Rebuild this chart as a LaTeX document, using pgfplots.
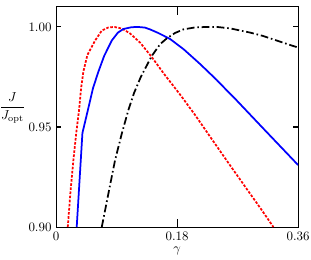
\documentclass[border=0pt]{standalone}
\usepackage{pgfplots}
\pgfplotsset{compat=1.18}
\begin{document}
\begin{tikzpicture}
\begin{axis}[
  scale only axis,
  width=187.3pt, height=170.3pt,
  xmin=0, xmax=0.36, ymin=0.90, ymax=1.01,
  xtick={0,0.18,0.36}, xticklabels={0,0.18,0.36},
  ytick={0.90,0.95,1.00}, yticklabels={0.90,0.95,1.00},
  tick align=inside,
  xtick style={/pgfplots/major tick length=6.5pt, line width=0.8pt, black},
  ytick style={/pgfplots/major tick length=3.8pt, line width=0.8pt, black},
  axis line style={line width=0.8pt},
  xlabel={$\gamma$},
  every axis x label/.style={at={(axis description cs:0.5,0)}, yshift=-15.5pt, anchor=north, inner sep=0pt},
  every axis y label/.style={at={(ticklabel cs:0.54)}, anchor=east, inner sep=0pt, xshift=1pt},
  ylabel={$\displaystyle\frac{J}{J_{\mathrm{opt}}}$},
  clip=true,
]
\addplot[red, line width=1.35pt, dash pattern=on 2pt off 1.2pt] coordinates {
(0.0174,0.900) (0.0215,0.918) (0.0258,0.9335) (0.030,0.947) (0.0342,0.9585)
(0.0372,0.9693) (0.0406,0.9777) (0.0466,0.986) (0.058,0.9932) (0.068,0.9982)
(0.078,0.9998) (0.087,1.000) (0.098,0.9992) (0.110,0.9968) (0.125,0.9922)
(0.1423,0.985) (0.160,0.9768) (0.1845,0.9662) (0.2068,0.9560) (0.234,0.9428)
(0.2564,0.9320) (0.2837,0.9190) (0.3040,0.9094) (0.3233,0.900)
};
\addplot[blue, line width=1.35pt] coordinates {
(0.0307,0.900) (0.0392,0.947) (0.047,0.958) (0.055,0.9695) (0.063,0.9777)
(0.0715,0.9855) (0.0828,0.9932) (0.092,0.9972) (0.1002,0.9990) (0.1125,0.9999)
(0.1225,1.000) (0.132,0.9997) (0.1398,0.9988) (0.152,0.9970) (0.1696,0.9940)
(0.190,0.9888) (0.2142,0.9815) (0.239,0.9735) (0.2514,0.9692) (0.2678,0.9636)
(0.3084,0.9492) (0.3600,0.931)
};
\addplot[black, line width=1.35pt, dash pattern=on 6pt off 2.2pt on 1.2pt off 2.2pt] coordinates {
(0.068,0.900) (0.078,0.917) (0.0878,0.9335) (0.098,0.947) (0.1076,0.9585)
(0.116,0.967) (0.126,0.975) (0.1423,0.9855) (0.155,0.9915) (0.1647,0.9943)
(0.177,0.997) (0.1894,0.9988) (0.207,0.9998) (0.224,1.000) (0.240,1.000)
(0.2589,0.9993) (0.2886,0.9972) (0.308,0.9955) (0.3283,0.9932) (0.360,0.9897)
};
\end{axis}
\pgfresetboundingbox
\path ([xshift=-43.4pt,yshift=-25.5pt]current axis.south west) rectangle ([xshift=10pt,yshift=5.4pt]current axis.north east);
\end{tikzpicture}
\end{document}
